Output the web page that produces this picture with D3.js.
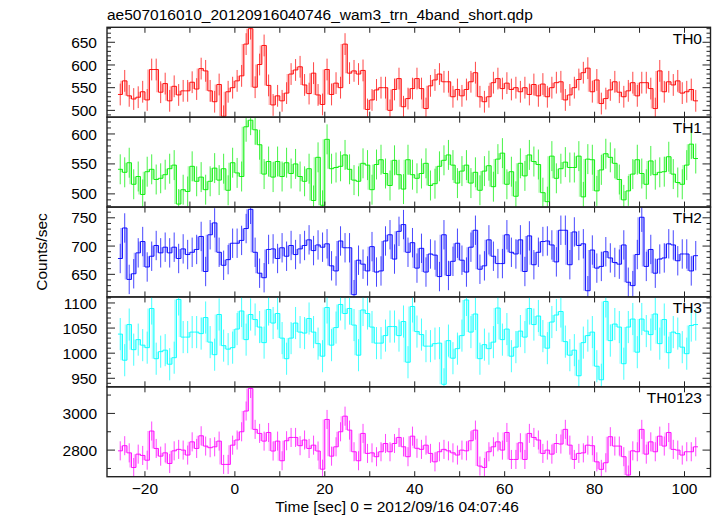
<!DOCTYPE html>
<html><head><meta charset="utf-8">
<script src="https://cdn.jsdelivr.net/npm/d3@7"></script>
<style>
body{margin:0;background:#fff}
svg{display:block}
text{font-family:"Liberation Sans",Arial,Helvetica,sans-serif;fill:#000}
</style>
</head><body>
<svg id="c" width="717" height="516"></svg>
<script>
const title = "ae507016010_20120916040746_wam3_trn_4band_short.qdp";
const xLabel = "Time [sec] 0 = 2012/09/16 04:07:46";
const yLabel = "Counts/sec";
const bandNames = ["TH0", "TH1", "TH2", "TH3", "TH0123"];
const bandColors = ["#ff0000", "#00ee00", "#0000ff", "#00ffff", "#ff00ff"];
const binStarts = d3.range(-26, 103); // 1-s time bins (start of each bin)
const binWidth = 1;

const th0 = [535,565,532,525,529,541,523,590,590,540,559,521,553,534,543,543,562,547,592,587,543,519,557,487,541,550,565,576,646,680,
 551,601,643,555,512,532,521,538,580,589,596,556,537,582,534,513,590,535,560,550,646,582,
 587,580,588,502,
 523,545,550,550,500,546,570,508,526,548,570,548,504,554,567,580,563,563,530,546,
 532,546,563,583,530,519,530,561,570,548,560,546,550,541,550,535,557,532,558,530,
 550,561,563,523,534,550,568,583,593,541,567,515,526,545,563,540,530,543,561,532,
 561,561,548,504,587,541,563,556,565,538,541,546,521];
const th1 = [541,536,552,516,529,499,537,541,524,526,532,542,548,483,507,504,546,521,528,507,521,543,523,542,506,552,535,529,
 612,623,607,582,533,554,528,554,529,552,534,550,529,521,542,489,561,481,591,542,544,546,565,541,523,521,
 551,548,507,549,557,534,514,556,532,508,557,532,526,534,551,514,517,546,556,565,548,518,538,
 548,518,536,506,538,547,512,558,568,516,537,496,551,530,565,554,549,502,487,563,526,542,553,544,544,563,495,
 558,557,505,540,567,561,551,524,490,505,533,557,534,516,555,532,536,537,562,533,519,516,548,583,559];
const th2 = [678,732,641,651,688,708,663,682,701,688,698,688,698,678,695,685,689,694,717,655,
 720,741,689,666,676,705,705,710,731,765,689,652,644,694,695,678,697,682,701,685,
 695,701,711,692,702,698,704,665,656,709,697,697,
 614,675,668,656,699,654,656,709,720,677,726,738,689,706,661,696,654,686,684,646,720,648,673,705,675,
 654,698,728,659,665,711,682,669,669,720,689,686,711,655,718,667,689,708,709,702,672,728,728,667,725,701,704,
 621,693,661,664,690,679,671,668,702,636,630,685,751,664,694,652,677,679,704,702,674,686,686,656,683];
const th3 = [1038,986,1057,1007,1027,1016,1011,1089,989,1003,1006,978,991,1107,1032,1032,1042,1042,1039,1071,
 1022,997,1077,1015,1008,1011,1048,1084,1027,1077,1067,1052,1021,1087,1060,1079,1030,989,1030,1060,
 1042,1040,1069,1042,1019,994,1091,1016,1051,1097,1079,1089,1056,996,
 1086,1079,1052,1020,1020,1035,1053,1053,1035,1063,982,1093,1043,1037,1014,1014,1019,1020,938,1025,990,1009,1035,
 1106,1042,1078,989,1017,1009,1022,1090,1027,1048,994,1012,1044,1032,1089,1057,1074,1034,1010,1062,1076,1083,1023,996,1006,955,1021,
 1035,1042,974,947,1103,1025,1058,1052,979,1052,1068,1002,1068,1044,1037,1078,1019,1067,1001,1042,1039,1012,999,1055,1057];
const th0123 = [2796,2824,2785,2705,2778,2771,2745,2904,2809,2767,2785,2727,2796,2804,2800,2773,2845,2809,2878,2822,
 2813,2818,2849,2722,2722,2827,2855,2900,3013,3136,2913,2891,2849,2896,2795,2849,2742,2851,2869,2869,
 2824,2855,2809,2827,2795,2696,2967,2767,2818,2900,2985,2909,2791,2742,
 2891,2782,2785,2764,2791,2836,2791,2836,2869,2818,2764,2876,2810,2804,2827,2782,2736,2791,2804,2796,
 2785,2773,2800,2796,2851,2909,2713,2705,2791,2818,2845,2800,2896,2749,2749,2840,2749,2891,2869,2855,
 2782,2800,2778,2836,2833,2913,2827,2749,2782,2785,2827,2824,2736,2695,2731,2873,2822,2822,2764,2664,
 2796,2791,2913,2778,2845,2791,2876,2822,2896,2804,2800,2773,2791,2791,2818];
const bandValues = [th0, th1, th2, th3, th0123];
const bandErrors = [24, 25, 26, 32, 52];

const yDomains = [[485, 683], [478, 628], [610, 769], [933, 1112], [2655, 3145]];
const yTickLabels = [[500, 550, 600, 650], [500, 550, 600], [650, 700, 750], [950, 1000, 1050, 1100], [2800, 3000]];
const yMinorStep = [10, 10, 10, 10, 100];
const xDomain = [-28.44, 105.78];
const xTickLabels = [-20, 0, 20, 40, 60, 80, 100];
const xMinorTicks = [-20, -10, 0, 10, 20, 30, 40, 50, 60, 70, 80, 90, 100];

// layout
const L = 107, R = 710.5, T = 27.3, B = 476.7;
const nP = bandNames.length;
const pH = (B - T) / nP;
const svg = d3.select("#c");
const x = d3.scaleLinear().domain(xDomain).range([L, R]);

svg.append("text").attr("x", 107).attr("y", 19.5).style("font-size", "15.5px").text(title);

bandNames.forEach((name, p) => {
  const top = T + p * pH, bot = top + pH;
  const y = d3.scaleLinear().domain(yDomains[p]).range([bot, top]);
  const col = bandColors[p];
  const vals = bandValues[p];
  const err = bandErrors[p];
  const data = binStarts.map((t, i) => ({t, v: vals[i]}));
  const g = svg.append("g");
  const cid = "clip" + p;
  svg.append("clipPath").attr("id", cid).append("rect")
    .attr("x", L).attr("y", top).attr("width", R - L).attr("height", pH);
  const dg = g.append("g").attr("clip-path", `url(#${cid})`);

  // light risers between bins
  let rp = "";
  for (let i = 1; i < data.length; i++) {
    const xe = x(data[i].t) - 1;
    rp += `M${xe},${y(data[i-1].v)}V${y(data[i].v)}`;
  }
  dg.append("path").attr("d", rp).attr("fill", "none").attr("stroke", col)
    .attr("stroke-width", 2.6).attr("stroke-opacity", 0.3);

  // error bars
  dg.selectAll("line.err").data(data).join("line")
    .attr("x1", d => x(d.t + binWidth / 2)).attr("x2", d => x(d.t + binWidth / 2))
    .attr("y1", d => y(d.v - err)).attr("y2", d => y(d.v + err))
    .attr("stroke", col).attr("stroke-width", 1).attr("stroke-opacity", 0.72);

  // step line
  const pts = data.map(d => [d.t, d.v]);
  pts.push([data[data.length - 1].t + binWidth, data[data.length - 1].v]);
  const line = d3.line().x(d => x(d[0])).y(d => y(d[1])).curve(d3.curveStepAfter);
  dg.append("path").attr("d", line(pts)).attr("fill", "none")
    .attr("stroke", col).attr("stroke-width", 1).attr("stroke-opacity", 0.9);

  // ticks
  const tk = g.append("g").attr("stroke", "#222").attr("stroke-width", 1);
  xMinorTicks.forEach(t => {
    tk.append("line").attr("x1", x(t)).attr("x2", x(t)).attr("y1", top).attr("y2", top + 5.5);
    tk.append("line").attr("x1", x(t)).attr("x2", x(t)).attr("y1", bot).attr("y2", bot - 5.5);
  });
  const [d0, d1] = yDomains[p];
  const minorVals = d3.range(Math.ceil(d0 / yMinorStep[p]) * yMinorStep[p], d1, yMinorStep[p]);
  const majorStep = yTickLabels[p][1] - yTickLabels[p][0];
  minorVals.forEach(v => {
    const isMajor = Math.abs(v / majorStep - Math.round(v / majorStep)) < 1e-6;
    const len = isMajor ? 8 : 4;
    tk.append("line").attr("x1", L).attr("x2", L + len).attr("y1", y(v)).attr("y2", y(v));
    tk.append("line").attr("x1", R).attr("x2", R - len).attr("y1", y(v)).attr("y2", y(v));
  });
  yTickLabels[p].forEach(v => {
    g.append("text").attr("x", 97).attr("y", y(v)).attr("dy", "0.36em")
      .attr("text-anchor", "end").style("font-size", "15.5px").text(v);
  });

  // frame
  g.append("rect").attr("x", L).attr("y", top).attr("width", R - L).attr("height", pH)
    .attr("fill", "none").attr("stroke", "#222").attr("stroke-width", 1.4);

  g.append("text").attr("x", 702).attr("y", top + 16.3).attr("text-anchor", "end")
    .style("font-size", "15.5px").text(name);

  if (p === nP - 1) {
    xTickLabels.forEach(t => {
      g.append("text").attr("x", x(t)).attr("y", 493.5).attr("text-anchor", "middle")
        .style("font-size", "15.5px").text(t < 0 ? "\u2212" + Math.abs(t) : t);
    });
  }
});

svg.append("text").attr("x", 397).attr("y", 511.5).attr("text-anchor", "middle")
  .style("font-size", "15.5px").text(xLabel);
svg.append("text").attr("transform", "translate(46.5,252) rotate(-90)").attr("text-anchor", "middle")
  .style("font-size", "15.5px").text(yLabel);
</script>
</body></html>
